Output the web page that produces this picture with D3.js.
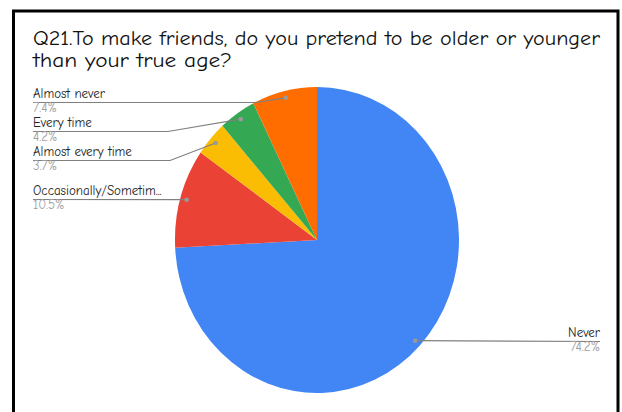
<!DOCTYPE html>
<html>
<head>
<meta charset="utf-8">
<script src="https://cdn.jsdelivr.net/npm/d3@7"></script>
<style>
  html, body { margin: 0; padding: 0; background: #fff; }
  svg { display: block; }
</style>
</head>
<body>
<svg id="chart" width="622" height="412"></svg>
<script>
// Survey answers, in clockwise order starting from 12 o'clock
const categories = ["Never", "Occasionally/Sometim...", "Almost every time", "Every time", "Almost never"];
const percents   = [74.2, 10.5, 3.7, 4.2, 7.4];
const colors     = ["#4285F4", "#EA4335", "#FBBC04", "#34A853", "#FF6D01"];
const titleLines = ["Q21.To make friends, do you pretend to be older or younger", "than your true age?"];

const FONT = '"Comic Sans MS", "Comic Neue", "Open Sans", "DejaVu Sans", sans-serif';

const svg = d3.select("#chart");

// frame around the chart area (open at the bottom edge)
svg.append("path")
  .attr("d", "M13.5,420 V11 H618 V420")
  .attr("fill", "none")
  .attr("stroke", "#000")
  .attr("stroke-width", 3);

// title
const titleFit = [567, 199];
svg.selectAll("text.title")
  .data(titleLines)
  .join("text")
  .attr("class", "title")
  .attr("x", 33)
  .attr("y", (d, i) => 45 + i * 22)
  .attr("font-family", FONT)
  .attr("font-size", 20)
  .attr("fill", "#111")
  .attr("textLength", (d, i) => titleFit[i])
  .attr("lengthAdjust", "spacingAndGlyphs")
  .text(d => d);

// pie geometry: slightly taller than wide
const cx = 317, cy = 240, rx = 142, ry = 153;
const data = categories.map((c, i) => ({ name: c, value: percents[i], color: colors[i] }));

const pie = d3.pie().sort(null).value(d => d.value);
const arcs = pie(data);
const arc = d3.arc().innerRadius(0).outerRadius(rx);
const anchorArc = d3.arc().innerRadius(rx * 0.955).outerRadius(rx * 0.955);

const g = svg.append("g").attr("transform", `translate(${cx},${cy}) scale(1,${ry / rx})`);
g.selectAll("path")
  .data(arcs)
  .join("path")
  .attr("d", arc)
  .attr("fill", d => d.data.color);

// anchor point of each slice in page coordinates
function anchor(d) {
  const [x, y] = anchorArc.centroid(d);
  return [cx + x, cy + y * ry / rx];
}

// label placement: side, baseline of the name, elbow of the leader line
const labelLayout = {
  "Never":                   { side: "right", y: 337, elbow: null },
  "Occasionally/Sometim...": { side: "left",  y: 195, elbow: null },
  "Almost every time":       { side: "left",  y: 156, elbow: 170 },
  "Every time":              { side: "left",  y: 127, elbow: 168 },
  "Almost never":            { side: "left",  y: 98,  elbow: 255 }
};

const labels = svg.append("g");
arcs.forEach(d => {
  const L = labelLayout[d.data.name];
  const [ax, ay] = anchor(d);
  const lineY = L.y + 4.5;
  const tx = L.side === "left" ? 33 : 600;
  const pts = [[tx, lineY]];
  if (L.elbow !== null) pts.push([L.elbow, lineY]);
  pts.push([ax, ay]);
  if (L.side === "right") pts.reverse();

  labels.append("path")
    .attr("d", d3.line()(pts))
    .attr("fill", "none")
    .attr("stroke", "#808080")
    .attr("stroke-width", 1.2);
  labels.append("circle")
    .attr("cx", ax).attr("cy", ay).attr("r", 2.3)
    .attr("fill", "#999");

  const anchorTxt = L.side === "left" ? "start" : "end";
  labels.append("text")
    .attr("x", tx).attr("y", L.y)
    .attr("text-anchor", anchorTxt)
    .attr("font-family", FONT)
    .attr("font-size", 13)
    .attr("fill", "#222")
    .text(d.data.name);
  labels.append("text")
    .attr("x", tx).attr("y", L.y + 14)
    .attr("text-anchor", anchorTxt)
    .attr("font-family", FONT)
    .attr("font-size", 13)
    .attr("fill", "#9e9e9e")
    .text(d3.format(".1f")(d.data.value) + "%");
});
</script>
</body>
</html>
